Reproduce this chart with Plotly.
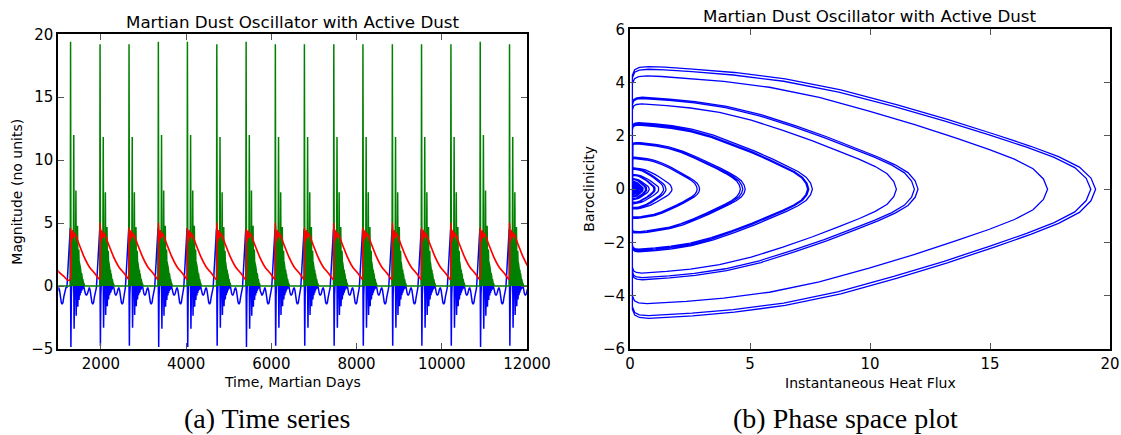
import plotly.graph_objects as go

# ---------------- data ----------------
# main heat-flux burst times (Martian days); a first, weaker burst precedes the window
burst_times = [570, 1288, 1980, 2660, 3348, 4030, 4720, 5408, 6094, 6776,
               7466, 8150, 8840, 9525, 10215, 10902, 11590]
# which burst family (row of the tables below) each burst follows
burst_variant = [2, 0, 1, 1, 0, 0, 1, 0, 1, 1, 1, 1, 1, 1, 1, 0, 1]
# red (dust) peak at each burst and overall scale of that burst's dust curve
dust_peak = [3.4, 4.6, 5.0, 4.65, 5.0, 4.6, 5.0, 4.5, 5.0, 4.65, 5.0, 4.65, 5.0, 4.65, 5.0, 4.65, 5.0]
dust_scale = [0.74] + [1.0] * 16

# sub-oscillations inside one burst: days after the main spike
sub_offset = [0, 75, 125, 163, 193, 217, 237, 254, 269, 282, 294, 305]
spike_halfwidth = [8, 8, 7, 7, 6, 6, 6, 5, 5, 5, 4, 4]
# level the dense heat-flux comb fills up to right after each sub-spike
flux_floor_after = [4.4, 3.4, 2.8, 2.4, 2.0, 1.6, 1.3, 1.0, 0.75, 0.55, 0.4, 0.25]
flux_end_offset = 330
# peak heat flux of each sub-oscillation (families A, B, first burst C)
sub_flux = [
    [19.4, 12.0, 7.6, 4.8, 2.9, 1.75, 1.2, 0.8, 0.55, 0.4, 0.3, 0.2],
    [19.2, 11.85, 7.45, 4.7, 2.8, 1.5, 1.05, 0.7, 0.5, 0.36, 0.26, 0.18],
    [17.4, 11.1, 7.4, 4.6, 2.8, 1.4, 1.0, 0.65, 0.45, 0.32, 0.24, 0.16],
]
# baroclinicity maximum before / minimum after each sub-oscillation
sub_top = [
    [4.6, 3.45, 2.5, 1.75, 1.2, 0.8, 0.55, 0.4, 0.3, 0.22, 0.16, 0.12],
    [4.5, 3.4, 2.45, 1.7, 1.15, 0.77, 0.52, 0.38, 0.28, 0.2, 0.15, 0.1],
    [4.25, 3.2, 2.4, 1.7, 1.15, 0.75, 0.52, 0.37, 0.27, 0.2, 0.15, 0.1],
]
sub_bottom = [
    [-4.85, -3.4, -2.35, -1.65, -1.1, -0.75, -0.55, -0.4, -0.3, -0.22, -0.16, -0.12],
    [-4.75, -3.32, -2.3, -1.6, -1.06, -0.72, -0.52, -0.38, -0.28, -0.2, -0.15, -0.1],
    [-4.3, -3.15, -2.25, -1.6, -1.05, -0.7, -0.5, -0.36, -0.27, -0.2, -0.14, -0.1],
]
# baroclinicity just after each downward spike (days after spike, value)
rebound_days = 10
rebound_value = -0.25
# quiet-period baroclinicity after a burst (days after main spike, value)
quiet_offset = [330, 350, 372, 395, 420, 440, 460, 480, 500, 520, 540, 560, 585, 610]
quiet_value = [-0.35, -0.62, -0.75, -0.6, -0.25, -0.12, -0.35, -0.9, -1.3, -1.45, -1.3, -0.85, -0.35, -0.12]
pre_rise_days = 85
pre_rise_value = -0.1
# dust curve after a burst (days after main spike, value); second value replaced by dust_peak
dust_offset = [-8, 0, 22, 45, 68, 95, 190, 320, 445, 570, 650]
dust_value = [0.53, 4.6, 3.55, 4.4, 3.85, 4.2, 3.4, 2.3, 1.5, 1.0, 0.62]
# shape of one orbit in the phase plane (fraction of peak flux, fraction of extreme baroclinicity)
orbit_u = [0.0, 0.005, 0.015, 0.035, 0.07, 0.13, 0.22, 0.33, 0.45, 0.57, 0.68, 0.78, 0.86, 0.92, 0.965, 0.99, 1.0]
orbit_r = [0.93, 0.975, 0.993, 1.0, 0.995, 0.98, 0.952, 0.9, 0.81, 0.69, 0.57, 0.45, 0.35, 0.265, 0.18, 0.09, 0.0]
flux_min = 0.1

ts_x_ticks = [2000, 4000, 6000, 8000, 10000, 12000]
ts_x_labels = ["2000", "4000", "6000", "8000", "10000", "12000"]
ts_y_ticks = [-5, 0, 5, 10, 15, 20]
ph_x_ticks = [0, 5, 10, 15, 20]
ph_y_ticks = [-6, -4, -2, 0, 2, 4, 6]

TITLE = "Martian Dust Oscillator with Active Dust"

# ---------------- build series ----------------
bt, bv = [], []   # baroclinicity time series
gt, gv = [], []   # heat flux time series
rt, rv = [], []   # dust time series
px, py = [], []   # phase plane path
n_sub = len(sub_offset)
for i, t0 in enumerate(burst_times):
    v = burst_variant[i]
    F, T, B = sub_flux[v], sub_top[v], sub_bottom[v]
    bt.append(t0 - pre_rise_days)
    bv.append(pre_rise_value)
    for k in range(n_sub):
        tk = t0 + sub_offset[k]
        w = spike_halfwidth[k]
        bt += [tk - w, tk, tk + w, tk + w + rebound_days]
        bv += [T[k], 0.0, B[k], rebound_value * abs(B[k]) / 1.5]
        gt += [tk - w, tk, tk + w]
        gv += [0.0 if k == 0 else flux_floor_after[k - 1] * 0.9, F[k], flux_floor_after[k]]
        for u, r in zip(orbit_u, orbit_r):
            px.append(flux_min + u * (F[k] - flux_min))
            py.append(r * T[k])
        for u, r in zip(orbit_u[::-1], orbit_r[::-1]):
            px.append(flux_min + u * (F[k] - flux_min))
            py.append(r * B[k])
    gt.append(t0 + flux_end_offset)
    gv.append(0.0)
    for off, val in zip(quiet_offset, quiet_value):
        bt.append(t0 + off)
        bv.append(val)
        px.append(flux_min)
        py.append(val)
    for j, (off, val) in enumerate(zip(dust_offset, dust_value)):
        rt.append(t0 + off)
        rv.append(dust_peak[i] if j == 1 else val * dust_scale[i])
gt.append(12200)
gv.append(0.0)

# ---------------- figure ----------------
W, H = 1121, 435
L1, R1, T1, B1 = 58.3, 527.0, 34.3, 349.0
L2, R2, T2, B2 = 630.0, 1110.0, 29.3, 349.0

fig = go.Figure()
line_w = 1.5
fig.add_trace(go.Scatter(x=bt, y=bv, mode="lines", line=dict(color="#0000ff", width=line_w),
                         xaxis="x", yaxis="y", showlegend=False, hoverinfo="skip"))
fig.add_trace(go.Scatter(x=gt, y=gv, mode="lines", line=dict(color="#008000", width=line_w),
                         fill="tozeroy", fillcolor="#008000",
                         xaxis="x", yaxis="y", showlegend=False, hoverinfo="skip"))
fig.add_trace(go.Scatter(x=rt, y=rv, mode="lines",
                         line=dict(color="#ff0000", width=1.7, shape="spline", smoothing=0.6),
                         xaxis="x", yaxis="y", showlegend=False, hoverinfo="skip"))
fig.add_trace(go.Scatter(x=px, y=py, mode="lines", line=dict(color="#0000ff", width=1.3),
                         xaxis="x2", yaxis="y2", showlegend=False, hoverinfo="skip"))

tick_font = dict(family="DejaVu Sans", size=15, color="black")
axis_common = dict(showline=True, linecolor="black", linewidth=2, mirror="allticks",
                   ticks="inside", ticklen=6, tickwidth=1, tickcolor="#555555",
                   showgrid=False, zeroline=False, tickfont=tick_font, fixedrange=True,
                   automargin=False)

fig.update_layout(
    width=W, height=H, margin=dict(l=0, r=0, t=0, b=0, autoexpand=False),
    paper_bgcolor="white", plot_bgcolor="white",
    xaxis=dict(domain=[L1 / W, R1 / W], range=[1000, 12000], tickvals=ts_x_ticks,
               ticktext=ts_x_labels, anchor="y", **axis_common),
    yaxis=dict(domain=[1 - B1 / H, 1 - T1 / H], range=[-5, 20], tickvals=ts_y_ticks,
               anchor="x", **axis_common),
    xaxis2=dict(domain=[L2 / W, R2 / W], range=[0, 20], tickvals=ph_x_ticks,
                anchor="y2", **axis_common),
    yaxis2=dict(domain=[1 - B2 / H, 1 - T2 / H], range=[-6, 6], tickvals=ph_y_ticks,
                anchor="x2", **axis_common),
)

sans = "DejaVu Sans"
ann = []
def add_text(text, x, y, size, family=sans, angle=0):
    ann.append(dict(text=text, x=x / W, y=1 - y / H, xref="paper", yref="paper",
                    xanchor="center", yanchor="middle", showarrow=False, textangle=angle,
                    font=dict(family=family, size=size, color="black")))

add_text(TITLE, (L1 + R1) / 2, 21.7, 16.7)
add_text(TITLE, (L2 + R2) / 2, 15.5, 16.7)
add_text("Time, Martian Days", (L1 + R1) / 2, 381.7, 14)
add_text("Instantaneous Heat Flux", (L2 + R2) / 2, 382.7, 14)
add_text("Magnitude (no units)", 17, 191.7, 14, angle=-90)
add_text("Baroclinicity", 589, 188.7, 14, angle=-90)
add_text("(a) Time series", 266.7, 418, 28, family="Liberation Serif")
add_text("(b) Phase space plot", 845, 418, 28, family="Liberation Serif")
fig.update_layout(annotations=ann)

fig.write_html("out.html",
               config={"displayModeBar": False, "staticPlot": True},
               post_script="document.body.style.margin='0';document.body.style.overflow='hidden';")
